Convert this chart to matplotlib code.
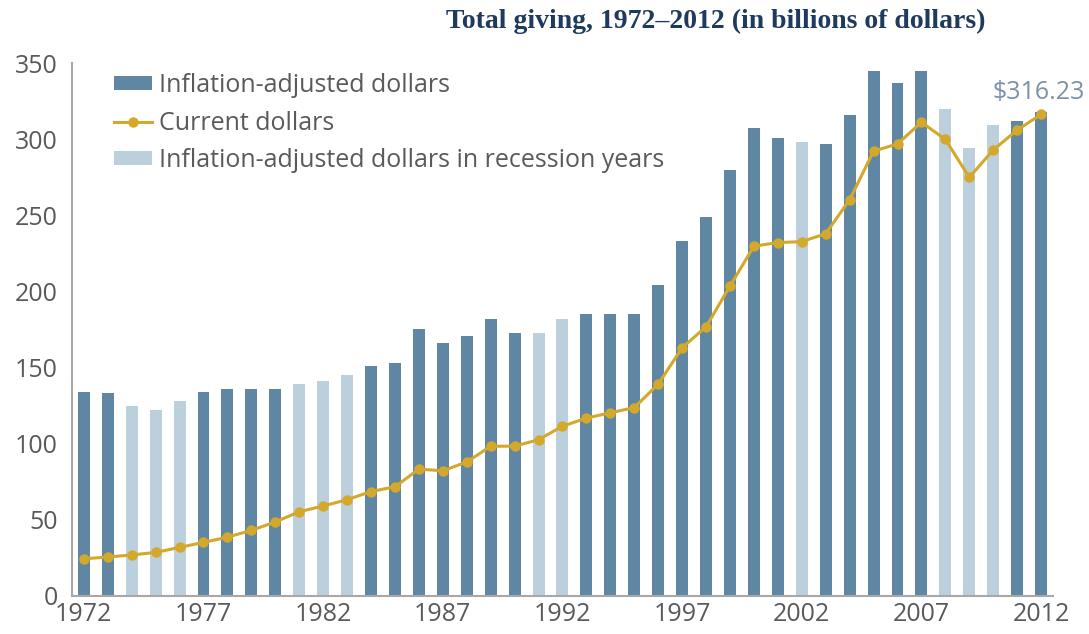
import matplotlib
matplotlib.use("Agg")
import matplotlib.pyplot as plt
import numpy as np

# data (billions of dollars)
years = list(range(1972, 2013))
adjusted = [134, 133, 125, 122, 128, 134, 136, 136, 136, 139,
            141, 145, 151, 153, 175, 166, 171, 182, 173, 173,
            182, 185, 185, 185, 204, 233, 249, 280, 307, 301,
            298, 297, 316, 345, 337, 345, 320, 294, 309, 312, 318]
current = [24.4, 25.6, 26.9, 28.6, 31.9, 35.2, 38.6, 43.1, 48.6, 55.3,
           59.1, 63.2, 68.6, 71.7, 83.3, 82.2, 88.0, 98.3, 98.4, 102.6,
           111.5, 116.8, 120.3, 123.7, 139.1, 163.0, 176.8, 203.5, 229.7, 232.1,
           232.7, 237.9, 260.2, 292.1, 296.9, 311.1, 299.8, 274.9, 292.9, 306.0,
           316.23]
recession_years = [1974, 1975, 1976, 1981, 1982, 1983, 1991, 1992,
                   2002, 2008, 2009, 2010]
xtick_years = [1972, 1977, 1982, 1987, 1992, 1997, 2002, 2007, 2012]
yticks = [0, 50, 100, 150, 200, 250, 300, 350]

dark = "#5f87a3"
light = "#bccfdd"
gold = "#d4a82a"
grey = "#5a5a5a"

plt.rcParams['font.family'] = ['Open Sans', 'DejaVu Sans']

fig = plt.figure(figsize=(10.89, 6.34), dpi=100)
ax = fig.add_axes([0.066, 0.06, 0.901, 0.8406])

normal = [(y, v) for y, v in zip(years, adjusted) if y not in recession_years]
reces = [(y, v) for y, v in zip(years, adjusted) if y in recession_years]

b1 = ax.bar([p[0] for p in normal], [p[1] for p in normal], width=0.5,
            color=dark, label="Inflation-adjusted dollars", zorder=2)
l1, = ax.plot(years, current, color=gold, lw=2.2, marker='o', ms=6.5,
              label="Current dollars", zorder=3)
b2 = ax.bar([p[0] for p in reces], [p[1] for p in reces], width=0.5,
            color=light, label="Inflation-adjusted dollars in recession years",
            zorder=2)

ax.annotate("$316.23", xy=(years[-1], current[-1]), xytext=(-2, 16),
            textcoords='offset points', ha='center', va='center',
            fontsize=18, color="#7d91a7")

ax.set_xlim(1971.5, 2012.5)
ax.set_ylim(0, 350)
ax.set_xticks(xtick_years)
ax.set_yticks(yticks)
ax.tick_params(length=0, labelsize=18, labelcolor=grey)
ax.tick_params(axis='y', pad=10)
ax.tick_params(axis='x', pad=4)
for s in ['top', 'right']:
    ax.spines[s].set_visible(False)
for s in ['left', 'bottom']:
    ax.spines[s].set_color("#a8a8a8")
    ax.spines[s].set_linewidth(1.5)

leg = ax.legend([b1, l1, b2], [b1.get_label(), l1.get_label(), b2.get_label()],
                loc='upper left', bbox_to_anchor=(0.033, 1.0), frameon=False,
                fontsize=18, handlelength=1.5, handleheight=0.5,
                handletextpad=0.3, labelspacing=0.5, borderaxespad=0.0)
for t in leg.get_texts():
    t.set_color(grey)

fig.text(0.657, 0.966, "Total giving, 1972\u20132012 (in billions of dollars)",
         ha='center', va='center', fontsize=20, fontweight='bold',
         family='Liberation Serif', color="#1f3a5f")

fig.savefig("out.png", dpi=100)
